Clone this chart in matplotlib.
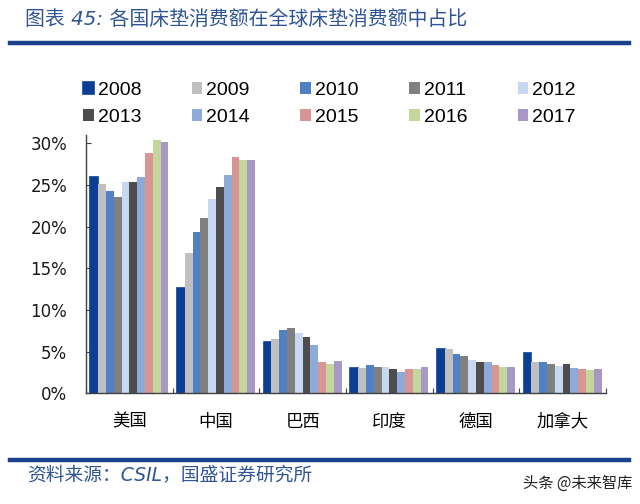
import numpy as np
import matplotlib
matplotlib.use("Agg")
import matplotlib.pyplot as plt

plt.rcParams['font.family'] = ['DejaVu Sans', 'Noto Sans CJK SC']

# ------------------------------
# Datos
# ------------------------------
countries = ["美国", "中国", "巴西", "印度", "德国", "加拿大"]
years = ["2008", "2009", "2010", "2011", "2012", "2013", "2014", "2015", "2016", "2017"]

share_2008 = [25.9, 12.6, 6.2, 3.0, 5.3, 4.8]
share_2009 = [25.1, 16.8, 6.5, 3.0, 5.3, 3.7]
share_2010 = [24.3, 19.4, 7.6, 3.4, 4.7, 3.7]
share_2011 = [23.6, 21.0, 7.8, 3.2, 4.5, 3.5]
share_2012 = [25.3, 23.3, 7.2, 3.1, 4.0, 3.3]
share_2013 = [25.3, 24.7, 6.7, 2.9, 3.8, 3.5]
share_2014 = [26.0, 26.2, 5.8, 2.6, 3.7, 3.0]
share_2015 = [28.8, 28.4, 3.8, 2.9, 3.4, 2.9]
share_2016 = [30.4, 28.0, 3.5, 2.9, 3.1, 2.8]
share_2017 = [30.1, 28.0, 3.9, 3.2, 3.1, 2.9]

series = [share_2008, share_2009, share_2010, share_2011, share_2012,
          share_2013, share_2014, share_2015, share_2016, share_2017]

colors = ["#0b3f95", "#c0c0c0", "#4f81c4", "#808080", "#c6d9f0",
          "#4d4d4d", "#8eaad8", "#d99594", "#c3d69b", "#a898c6"]

y_ticks = [0, 5, 10, 15, 20, 25, 30]

# ------------------------------
# Figura
# ------------------------------
fig = plt.figure(figsize=(6.4, 5.04), dpi=100)
ax = fig.add_axes([86/640, 1 - 393.3/504, (606 - 86)/640, (393.3 - 135)/504])

x = np.arange(len(countries))
w = 0.09
for i, (vals, col) in enumerate(zip(series, colors)):
    pos = x + (i - 4.5) * w
    if i == 0:
        ax.bar(pos, vals, w, color=col, edgecolor=col, linewidth=1.2,
               label=years[i], zorder=2)
    else:
        ax.bar(pos, vals, w, color=col, linewidth=0, label=years[i], zorder=2)

ax.set_xlim(-0.5, len(countries) - 0.5)
ax.set_ylim(0, 31)
ax.set_yticks(y_ticks)
ax.set_yticklabels([f"{t}%" for t in y_ticks], fontsize=12, color="#1a1a1a")
ax.tick_params(axis="y", direction="in", length=3.4, width=0.8,
               color="#404040", pad=13.5)

ax.set_xticks(x)
ax.set_xticklabels(countries, family=['Noto Sans CJK SC'], fontsize=12.5)
ax.set_xticks(np.arange(-0.5, len(countries)), minor=True)
ax.tick_params(axis="x", which="major", length=0, pad=14)
ax.tick_params(axis="x", which="minor", direction="in", length=3.6,
               width=0.8, color="#404040")

for s in ["top", "right"]:
    ax.spines[s].set_visible(False)
for s in ["left", "bottom"]:
    ax.spines[s].set_color("#404040")
    ax.spines[s].set_linewidth(1.0)

# leyenda en filas (2008..2012 arriba)
h, l = ax.get_legend_handles_labels()
order = [0, 5, 1, 6, 2, 7, 3, 8, 4, 9]
fig.legend([h[k] for k in order], [l[k] for k in order],
           loc="upper left", bbox_to_anchor=(83/640, 1 - 82/504), ncol=5,
           frameon=False, borderaxespad=0, borderpad=0,
           prop={'family': 'Liberation Sans', 'size': 14},
           handlelength=0.55, handleheight=0.6, handletextpad=0.2,
           columnspacing=2.6, labelspacing=0.5)

# titulo y pie
fig.text(25/640, 1 - 19/504, "图表 45: 各国床垫消费额在全球床垫消费额中占比",
         fontsize=14.3, style="italic", color="#2f5597", va="center", ha="left")
fig.add_artist(plt.Line2D([10/640, 629/640], [1 - 43/504, 1 - 43/504],
                          color="#1a4189", linewidth=3.2))
fig.add_artist(plt.Line2D([10/640, 629/640], [1 - 460/504, 1 - 460/504],
                          color="#1a4189", linewidth=3.2))
fig.text(27/640, 1 - 475/504, "资料来源：CSIL，国盛证券研究所",
         fontsize=13.5, style="italic", color="#2f5597", va="center", ha="left")
fig.text(632/640, 1 - 483/504, "头条 @未来智库", family=['Noto Sans CJK SC'],
         fontsize=11, color="#222222", va="center", ha="right")

fig.savefig("out.png", dpi=100)
